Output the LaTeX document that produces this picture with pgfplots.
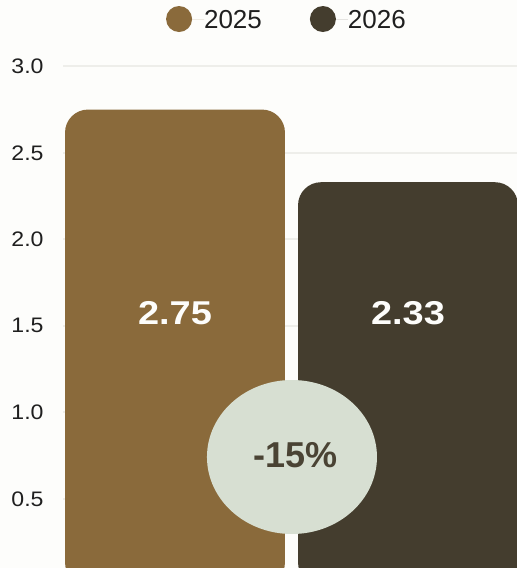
\documentclass[border=0pt]{standalone}
\usepackage{fontspec}
\setmainfont{Liberation Sans}
\usepackage{pgfplots}
\pgfplotsset{compat=1.18}
\definecolor{bgc}{HTML}{FDFDFB}
\definecolor{cA}{HTML}{8A6A3B}
\definecolor{cB}{HTML}{443D2E}
\definecolor{ell}{HTML}{D7DFD2}
\definecolor{etext}{HTML}{4A4334}
\definecolor{gridc}{HTML}{EEEEEA}
\definecolor{tickc}{HTML}{1F1F1F}
\begin{document}
\begin{tikzpicture}[x=1pt,y=1pt]
\fill[bgc] (0,0) rectangle (517,568);
\useasboundingbox (0,0) rectangle (517,568);
\begin{axis}[
  at={(63pt,-17.3pt)}, anchor=south west,
  scale only axis, width=454pt, height=519pt,
  xmin=-0.4807, xmax=1.4678, ymin=0, ymax=3.0,
  axis line style={draw=none},
  major tick length=0pt,
  xtick=\empty,
  ytick={0.5,1.0,1.5,2.0,2.5,3.0},
  ymajorgrids,
  grid style={gridc, line width=1.6pt},
  /pgf/number format/assume math mode=true,
  /pgf/number format/.cd, fixed, fixed zerofill, precision=1,
  /pgfplots/.cd,
  yticklabel style={font=\fontsize{21pt}{25pt}\selectfont, text=tickc, anchor=east, inner sep=0pt, xscale=1.1, xshift=-17.5pt},
  legend columns=2,
  legend style={draw=none, fill=none, at={(axis description cs:0.491,1.0911)}, anchor=center,
    font=\fontsize{26pt}{30pt}\selectfont, text=tickc,
    nodes={inner sep=0pt, text depth=0pt},
    /tikz/every even column/.append style={column sep=48pt}},
]
\addplot[ybar, bar width=0.944, bar shift=0pt, fill=cA, draw=none, rounded corners=23pt,
  legend image code/.code={\fill[cA] (13pt,0pt) circle (13pt); \path (0pt,0pt) -- (38pt,0pt);}]
  coordinates {(0,2.75)};
\addlegendentry{2025}
\addplot[ybar, bar width=0.944, bar shift=0pt, fill=cB, draw=none, rounded corners=23pt,
  legend image code/.code={\fill[cB] (13pt,0pt) circle (13pt); \path (0pt,0pt) -- (38pt,0pt);}]
  coordinates {(1,2.33)};
\addlegendentry{2026}
\addplot[draw=none, mark=none, nodes near coords, point meta=explicit symbolic,
  every node near coord/.style={anchor=center, inner sep=0pt, text=bgc, xscale=1.15,
    font=\fontsize{33pt}{38pt}\selectfont\bfseries}]
  coordinates {(0,1.574)[2.75] (1,1.574)[2.33]};
\fill[ell] (axis cs:0.502,0.7416) ellipse [x radius=85pt, y radius=77pt];
\node[anchor=center, inner sep=0pt, text=etext, font=\fontsize{36pt}{40pt}\selectfont\bfseries]
  at (axis cs:0.517,0.753) {-15\%};
\end{axis}
\end{tikzpicture}
\end{document}
